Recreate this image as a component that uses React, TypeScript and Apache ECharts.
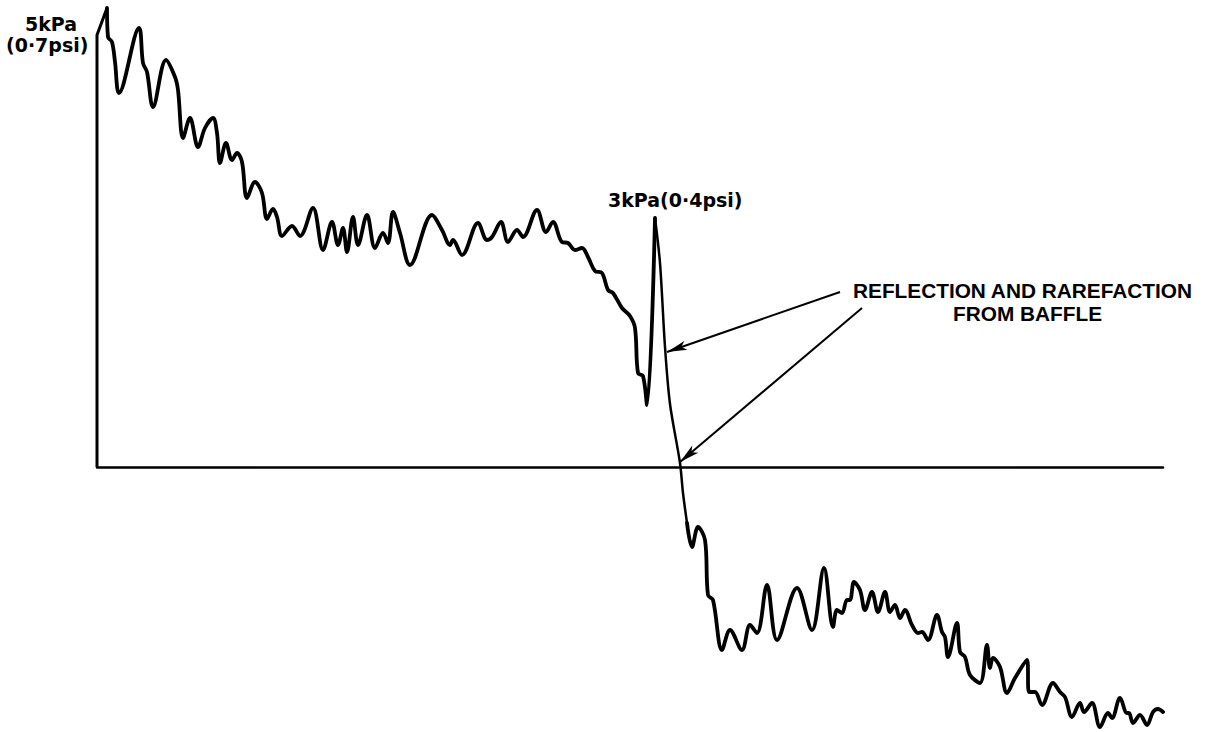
import React, { useEffect, useRef } from "react";
import * as echarts from "echarts";

// x: time (arbitrary units along the trace), y: pressure (arbitrary units, 0 = ambient)
const shockFront: [number, number][] = [
  [0, 0], [0, 432], [10, 459],
];

const incidentTrace: [number, number][] = [
  [10, 459], [11, 430], [15, 425], [18, 405], [22, 374], [42, 439], [46, 404], [50, 395],
  [56, 360], [69, 407], [78, 390], [81, 377], [86, 329], [93, 349], [101, 320], [108, 339],
  [116, 349], [120, 334], [123, 304], [129, 324], [135, 307], [140, 314], [145, 305],
  [150, 269], [158, 285], [165, 274], [170, 248], [176, 258], [180, 250], [185, 231],
  [195, 241], [203, 231], [216, 259], [226, 217], [235, 245], [241, 222], [246, 239],
  [250, 215], [256, 250], [261, 222], [270, 252], [278, 219], [286, 234], [291, 224],
  [296, 255], [303, 234], [313, 202], [335, 252], [345, 237], [353, 222], [356, 227],
  [365, 212], [381, 244], [390, 227], [395, 230], [404, 245], [411, 225], [420, 237],
  [426, 230], [440, 257], [449, 235], [456, 245], [465, 225], [471, 224], [478, 217],
  [485, 219], [491, 210], [498, 196], [505, 194], [511, 177], [516, 174], [525, 159],
  [533, 151], [538, 139], [541, 94], [546, 91], [550, 62], [558, 249],
];

const reflectionTrace: [number, number][] = [
  [558, 249], [563, 204], [568, 120], [573, 63], [583, 4], [586, -26], [590, -56],
];

const rarefactionTrace: [number, number][] = [
  [590, -56], [595, -80], [601, -60], [608, -73], [611, -128], [616, -133], [625, -183],
  [633, -163], [645, -183], [653, -158], [660, -166], [670, -118], [680, -173], [700, -121],
  [715, -163], [727, -101], [736, -160], [740, -143], [745, -146], [750, -133], [753, -133],
  [757, -115], [763, -123], [768, -143], [775, -125], [781, -145], [788, -125], [793, -145],
  [798, -138], [803, -151], [808, -143], [815, -158], [821, -166], [825, -165], [831, -173],
  [840, -148], [845, -165], [848, -170], [851, -190], [860, -156], [863, -185], [868, -190],
  [873, -208], [883, -216], [890, -178], [893, -201], [896, -191], [903, -200], [910, -226],
  [918, -211], [930, -193], [932, -225], [938, -225], [945, -238], [956, -216], [963, -225],
  [968, -230], [975, -250], [983, -236], [987, -245], [995, -236], [1003, -260], [1011, -246],
  [1015, -251], [1023, -231], [1030, -246], [1032, -246], [1036, -256], [1043, -248],
  [1050, -258], [1056, -245], [1061, -242], [1066, -245],
];

// annotation arrows: [from, to] in data units
const arrowLines: [number, number][][] = [
  [[743, 175], [570, 115]],
  [[765, 159], [583, 5]],
];

const X_MAX = 1066;
const Y_MIN = -264;
const Y_MAX = 463;

export default function App() {
  const ref = useRef<HTMLDivElement | null>(null);

  useEffect(() => {
    if (!ref.current) return;
    const chart = echarts.init(ref.current, null, { renderer: "svg" });
    const lineBase = {
      type: "line" as const,
      showSymbol: false,
      symbol: "none",
      silent: true,
    };
    chart.setOption({
      animation: false,
      backgroundColor: "#ffffff",
      grid: { left: 97, right: 54, top: 4, bottom: 1 },
      xAxis: {
        type: "value",
        min: 0,
        max: X_MAX,
        axisLine: { show: true, onZero: true, lineStyle: { color: "#000", width: 2.5 } },
        axisTick: { show: false },
        axisLabel: { show: false },
        splitLine: { show: false },
      },
      yAxis: {
        type: "value",
        min: Y_MIN,
        max: Y_MAX,
        axisLine: { show: false },
        axisTick: { show: false },
        axisLabel: { show: false },
        splitLine: { show: false },
      },
      series: [
        { ...lineBase, data: shockFront, lineStyle: { color: "#000", width: 3, join: "round" } },
        { ...lineBase, data: incidentTrace, smooth: 0.35, lineStyle: { color: "#000", width: 3.8, join: "round", cap: "round" } },
        {
          ...lineBase,
          data: reflectionTrace,
          smooth: 0.3,
          lineStyle: { color: "#000", width: 2.5, cap: "round" },
          markLine: {
            silent: true,
            symbol: ["none", "arrow"],
            symbolSize: [7, 20],
            label: { show: false },
            lineStyle: { color: "#000", width: 2, type: "solid" },
            data: arrowLines.map(([a, b]) => [{ coord: a }, { coord: b }]),
          },
        },
        { ...lineBase, data: rarefactionTrace, smooth: 0.35, lineStyle: { color: "#000", width: 3.8, join: "round", cap: "round" } },
      ],
      graphic: [
        {
          type: "text", left: 25, top: 14,
          style: { text: "5kPa", fill: "#000", font: "bold 19px 'DejaVu Sans'" },
        },
        {
          type: "text", left: 6, top: 35,
          style: { text: "(0·7psi)", fill: "#000", font: "bold 19px 'DejaVu Sans'" },
        },
        {
          type: "text", left: 608, top: 190,
          style: { text: "3kPa(0·4psi)", fill: "#000", font: "bold 19px 'DejaVu Sans'" },
        },
        {
          type: "text", left: 853, top: 280,
          style: { text: "REFLECTION AND RAREFACTION", fill: "#000", font: "bold 20.8px 'Liberation Sans'" },
        },
        {
          type: "text", left: 953, top: 303,
          style: { text: "FROM BAFFLE", fill: "#000", font: "bold 20.8px 'Liberation Sans'" },
        },
      ],
    });
    return () => chart.dispose();
  }, []);

  return (
    <div
      ref={ref}
      style={{ position: "absolute", left: 0, top: 0, width: 1217, height: 732 }}
    />
  );
}
